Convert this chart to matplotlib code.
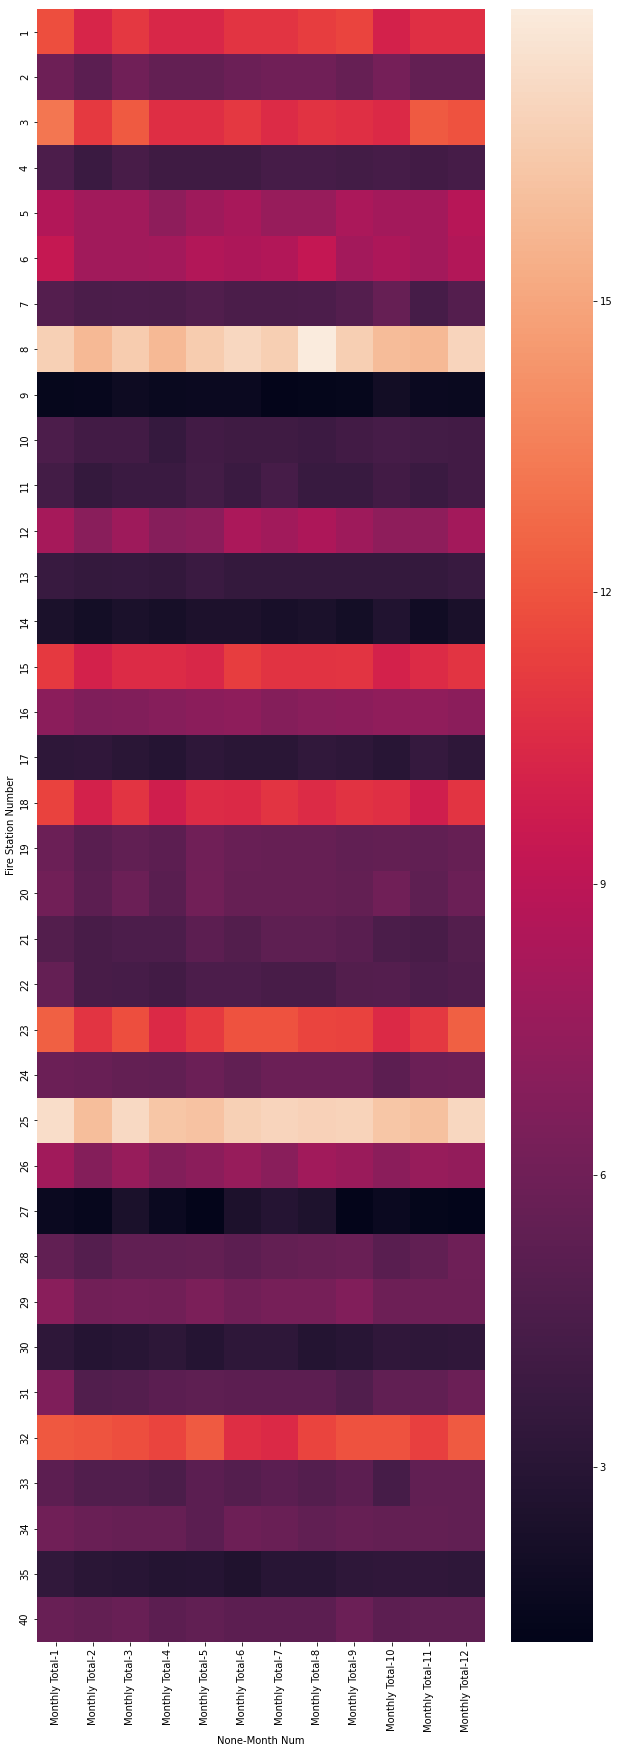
import matplotlib
matplotlib.use("Agg")
import matplotlib.pyplot as plt
import numpy as np
import pandas as pd
import seaborn as sns

# Fire stations (rows) and monthly columns
stations = [str(i) for i in range(1, 36)] + ["40"]
months = ["Monthly Total-%d" % m for m in range(1, 13)]

# values (one list per station)
st_1 = [11.8, 10.2, 11.0, 10.3, 10.3, 10.9, 10.9, 11.2, 11.5, 10.0, 10.7, 10.7]
st_2 = [5.9, 5.2, 6.0, 5.5, 5.5, 5.8, 6.0, 6.0, 5.6, 6.2, 5.5, 5.5]
st_3 = [13.2, 11.1, 12.2, 10.6, 10.6, 11.0, 10.5, 10.8, 10.7, 10.4, 12.2, 11.9]
st_4 = [4.6, 3.8, 4.4, 4.0, 4.0, 4.0, 4.3, 4.3, 4.2, 4.3, 4.1, 4.3]
st_5 = [8.6, 7.9, 7.9, 7.2, 7.8, 8.2, 7.5, 7.5, 8.3, 8.0, 8.0, 8.8]
st_6 = [9.4, 7.9, 7.9, 8.0, 8.6, 8.4, 8.6, 9.3, 8.0, 8.4, 8.0, 8.6]
st_7 = [4.9, 4.5, 4.6, 4.5, 4.8, 4.5, 4.5, 4.6, 4.9, 5.6, 4.3, 4.9]
st_8 = [16.8, 15.8, 16.6, 15.8, 16.6, 17.1, 16.7, 18.0, 16.7, 15.9, 15.8, 17.0]
st_9 = [1.4, 1.5, 1.8, 1.6, 1.7, 1.7, 1.3, 1.35, 1.45, 2.0, 1.7, 1.6]
st_10 = [4.6, 4.1, 4.1, 3.6, 4.1, 4.0, 4.0, 3.85, 4.1, 4.3, 4.2, 4.1]
st_11 = [4.2, 3.55, 3.8, 3.8, 4.2, 3.8, 4.35, 3.7, 3.75, 4.1, 3.8, 4.1]
st_12 = [8.1, 7.0, 7.8, 6.9, 7.1, 8.3, 7.9, 8.4, 7.8, 7.2, 7.2, 8.0]
st_13 = [3.7, 3.5, 3.6, 3.45, 3.8, 3.5, 3.5, 3.5, 3.5, 3.5, 3.5, 3.7]
st_14 = [2.4, 2.1, 2.4, 2.2, 2.45, 2.5, 2.3, 2.4, 2.1, 2.7, 1.95, 2.35]
st_15 = [11.1, 10.0, 10.5, 10.5, 10.3, 11.2, 10.8, 10.8, 10.85, 10.0, 10.5, 10.9]
st_16 = [7.1, 6.6, 6.7, 6.9, 7.1, 7.2, 6.8, 7.0, 7.05, 7.3, 7.3, 7.05]
st_17 = [3.3, 3.35, 3.1, 2.9, 3.25, 3.1, 3.1, 3.4, 3.25, 3.0, 3.6, 3.25]
st_18 = [11.4, 10.0, 10.9, 9.8, 10.5, 10.4, 10.9, 10.5, 10.8, 10.7, 9.8, 10.9]
st_19 = [5.8, 5.1, 5.45, 5.25, 6.0, 5.7, 5.6, 5.6, 5.4, 5.5, 5.4, 5.6]
st_20 = [6.1, 5.25, 5.85, 5.1, 6.1, 5.6, 5.6, 5.6, 5.5, 6.05, 5.3, 5.85]
st_21 = [4.85, 4.4, 4.6, 4.55, 5.25, 4.85, 5.3, 5.3, 5.1, 4.5, 4.4, 4.85]
st_22 = [5.55, 4.4, 4.3, 4.1, 4.55, 4.55, 4.4, 4.4, 4.85, 4.9, 4.55, 4.7]
st_23 = [12.4, 10.9, 11.8, 10.4, 11.1, 11.9, 11.9, 11.5, 11.4, 10.4, 11.0, 12.4]
st_24 = [5.8, 5.7, 5.5, 5.45, 5.8, 5.4, 5.85, 5.8, 5.8, 5.25, 5.85, 5.9]
st_25 = [17.4, 16.0, 17.2, 16.3, 16.2, 16.8, 17.0, 16.85, 16.9, 16.3, 16.1, 17.1]
st_26 = [7.9, 6.8, 7.5, 6.75, 7.1, 7.55, 7.0, 7.9, 7.65, 7.1, 7.55, 7.4]
st_27 = [1.7, 1.5, 2.4, 1.7, 1.3, 2.5, 2.9, 2.55, 1.3, 1.7, 1.35, 1.2]
st_28 = [5.45, 4.9, 5.4, 5.4, 5.5, 5.25, 5.5, 5.6, 5.75, 5.1, 5.4, 5.95]
st_29 = [7.0, 6.1, 6.15, 6.1, 6.45, 6.0, 6.3, 6.3, 6.7, 5.9, 5.9, 5.9]
st_30 = [3.25, 2.9, 3.0, 3.2, 2.9, 3.25, 3.25, 2.8, 3.0, 3.35, 3.25, 3.35]
st_31 = [6.6, 4.8, 4.9, 5.15, 5.3, 5.25, 5.25, 5.25, 4.8, 5.4, 5.4, 5.85]
st_32 = [12.1, 12.0, 11.8, 11.5, 12.2, 10.6, 10.4, 11.5, 11.95, 11.9, 11.3, 12.2]
st_33 = [5.25, 4.8, 4.8, 4.5, 5.15, 4.9, 5.15, 4.9, 5.25, 4.3, 5.4, 5.4]
st_34 = [6.05, 5.75, 5.6, 5.6, 5.15, 5.9, 5.75, 5.4, 5.6, 5.5, 5.5, 5.4]
st_35 = [3.4, 3.1, 3.0, 2.8, 2.9, 2.6, 3.0, 3.0, 3.25, 3.35, 3.35, 3.25]
st_40 = [5.7, 5.5, 5.7, 5.25, 5.4, 5.25, 5.25, 5.25, 5.85, 5.25, 5.3, 5.3]

rows = [st_1, st_2, st_3, st_4, st_5, st_6, st_7, st_8, st_9, st_10,
        st_11, st_12, st_13, st_14, st_15, st_16, st_17, st_18, st_19, st_20,
        st_21, st_22, st_23, st_24, st_25, st_26, st_27, st_28, st_29, st_30,
        st_31, st_32, st_33, st_34, st_35, st_40]

df = pd.DataFrame(rows, index=stations, columns=months)
df.index.name = "Fire Station Number"
df.columns.name = "None-Month Num"

# inline-notebook style output: 72 dpi
fig = plt.figure(figsize=(620 / 72, 1754 / 72), dpi=72)
ax = fig.add_axes([0.0597, 0.0639, 0.7226, 0.931])
cax = fig.add_axes([0.824, 0.0639, 0.132, 0.931])

sns.heatmap(df, ax=ax, cbar_ax=cax, cmap="rocket")

ax.set_xticklabels(months, rotation=90)
ax.set_yticklabels(stations, rotation=90, va="center")
cax.set_yticks([3, 6, 9, 12, 15])

fig.savefig("out.png", dpi=72)
